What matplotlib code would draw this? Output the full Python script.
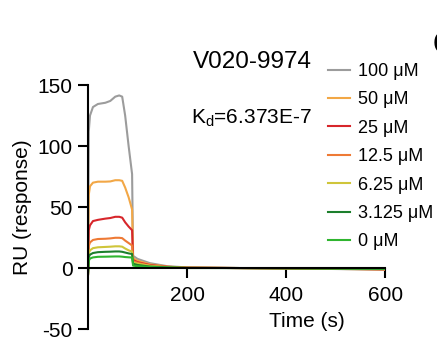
import matplotlib
matplotlib.use("Agg")
import matplotlib.pyplot as plt

plt.rcParams['font.family'] = ['Liberation Sans', 'DejaVu Sans']
plt.rcParams['mathtext.default'] = 'regular'
plt.rcParams['axes.unicode_minus'] = False

# ---- data ----
time_s = [0, 1.5, 4, 10, 20, 35, 45, 55, 63, 69, 75, 82, 89, 91, 100, 125, 160, 200, 300, 400, 500, 600]

labels = ["100 μM", "50 μM", "25 μM", "12.5 μM", "6.25 μM", "3.125 μM", "0 μM"]
colors = ["#9c9c9c", "#f2a746", "#d7262b", "#ee7a35", "#cfc53a", "#1c7f2c", "#2fb52f"]

ru_100 = [-5, 112, 125, 132, 134.5, 135.5, 137, 140.5, 141.5, 140.5, 125, 100, 77, 10, 7.5, 4, 1.5, 0.5, 0, -0.3, -0.8, -1.5]
ru_50 = [-5, 60, 67, 70, 70.8, 70.8, 71, 72, 72, 71.5, 66, 58, 48, 8, 6, 3, 1.2, 0.3, 0, -0.3, -0.7, -1.3]
ru_25 = [-5, 31, 35, 38.5, 39.5, 40.5, 41, 42, 42, 41.3, 37.5, 34, 31, 6.5, 4.8, 2.5, 1, 0.3, 0, -0.3, -0.6, -1]
ru_12_5 = [-5, 18, 21, 23, 23.8, 24, 24.3, 24.8, 24.8, 24.5, 22.5, 20.5, 18.5, 5.5, 4.2, 2, 0.8, 0.2, 0, -0.2, -0.5, -0.8]
ru_6_25 = [-5, 12, 14.5, 16.3, 17, 17.3, 17.5, 17.8, 17.8, 17.5, 16, 14.5, 13.5, 4.5, 3.5, 1.8, 0.7, 0.2, 0, -0.2, -0.4, -0.7]
ru_3_125 = [-5, 9, 11, 12.3, 13, 13.3, 13.4, 13.6, 13.6, 13.3, 12.7, 12, 11.5, 3.5, 2.5, 1.2, 0.5, 0.1, 0, -0.2, -0.4, -0.6]
ru_0 = [-5, 6, 7.8, 8.7, 9.2, 9.3, 9.4, 9.5, 9.5, 9.3, 9, 8.8, 8.6, 2, 1.5, 0.8, 0.3, 0, 0, -0.1, -0.3, -0.5]

series = [ru_100, ru_50, ru_25, ru_12_5, ru_6_25, ru_3_125, ru_0]

# ---- figure ----
fig = plt.figure(figsize=(4.37, 3.52), dpi=100)
ax = fig.add_axes([0.2014, 0.0653, 0.680, 0.693])

for vals, c, lab in zip(series, colors, labels):
    ax.plot(time_s, vals, color=c, lw=1.5, label=lab, solid_joinstyle='round')

ax.set_xlim(0, 600)
ax.set_ylim(-50, 150)
ax.set_xticks([200, 400, 600])
ax.set_yticks([-50, 0, 50, 100, 150])

for s in ['top', 'right']:
    ax.spines[s].set_visible(False)
ax.spines['bottom'].set_position(('data', 0))
ax.spines['left'].set_bounds(-50, 150)
for s in ['left', 'bottom']:
    ax.spines[s].set_linewidth(1.5)
ax.tick_params(axis='both', direction='out', length=7, width=1.5, labelsize=15, pad=4)
ax.tick_params(axis='x', pad=6)

ax.set_ylabel("RU (response)", fontsize=15)
ax.yaxis.set_label_coords(-0.19, 0.5)
ax.set_xlabel("Time (s)", fontsize=15)
ax.xaxis.set_label_coords(0.737, 0.03)
ax.xaxis.label.set_va('center')

ax.text(0.553, 1.095, "V020-9974", transform=ax.transAxes, ha='center', va='center', fontsize=17.5)
ax.text(0.345, 0.865, r"K$_d$=6.373E-7", transform=ax.transAxes, ha='left', va='center', fontsize=15)

leg = ax.legend(loc='upper left', bbox_to_anchor=(328 / 437, 1 - 63 / 352), bbox_transform=fig.transFigure,
                frameon=False, fontsize=13, handlelength=1.2, handletextpad=0.45,
                labelspacing=0.63, borderpad=0, borderaxespad=0)

fig.text(433 / 437, 1 - 45 / 352, "C", fontsize=24, fontweight='bold', ha='left', va='center')

fig.savefig("out.png", dpi=100)
